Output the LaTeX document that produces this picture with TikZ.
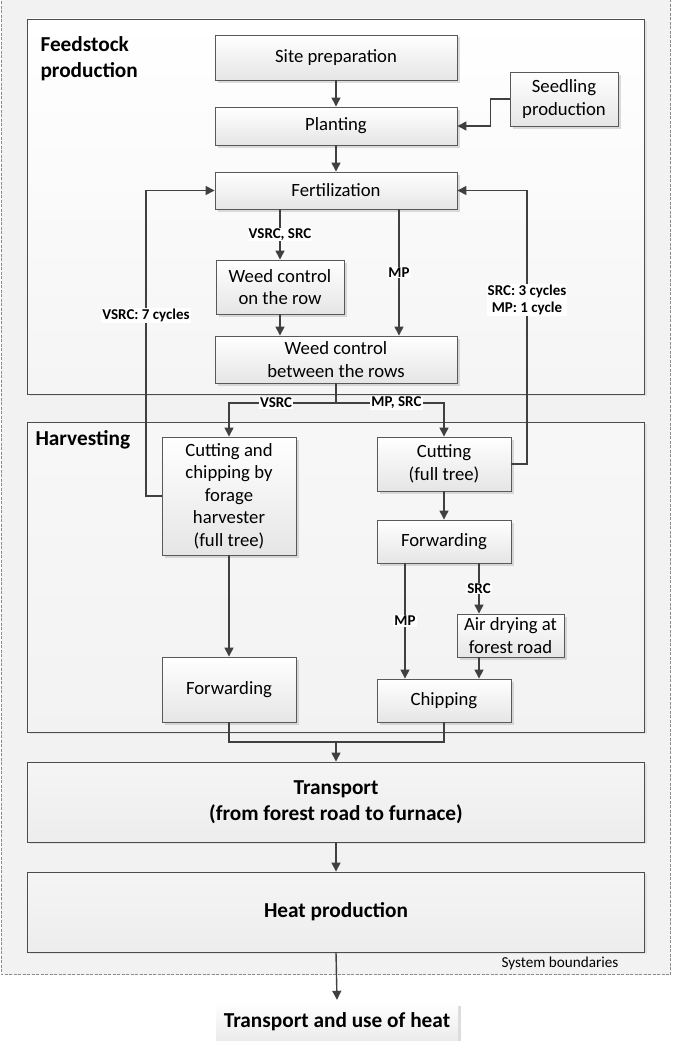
\documentclass[tikz,border=0pt]{standalone}
\usepackage{fontspec}
\setmainfont{Carlito}
\usetikzlibrary{arrows.meta,shadows}
\begin{document}
\begin{tikzpicture}[x=1pt,y=-1pt,
  boxfont/.style={font=\fontsize{18.7}{22.6}\selectfont},
  secfont/.style={font=\fontsize{21.3}{25.6}\selectfont\bfseries},
  labfont/.style={font=\fontsize{15}{17.5}\selectfont\bfseries},
  shad/.style={drop shadow={shadow xshift=2.5pt,shadow yshift=-2.5pt,fill=black!30,opacity=0.45}},
  box/.style={draw=black!65,line width=0.9pt,top color=white,bottom color=black!10,shad,
    align=center,inner sep=0pt,boxfont},
  sec/.style={draw=black!70,line width=0.9pt,inner sep=0pt,
    drop shadow={shadow xshift=2pt,shadow yshift=-2pt,fill=black!20,opacity=0.4}},
  ln/.style={draw=black!75,line width=1.4pt},
  arr/.style={ln,-{Triangle[length=9pt,width=9pt]}},
  lab/.style={fill=white,inner sep=1pt,labfont,align=center},
]
\useasboundingbox (0,0) rectangle (672,1041);
% system boundary
\draw[dash pattern=on 3pt off 1.5pt,draw=black!45,line width=0.9pt,fill=black!5] (1,-3) rectangle (670.5,974.5);
\node[font=\fontsize{15.2}{18}\selectfont,anchor=center] (sysb) at (560,963) {System boundaries};

% sections
\node[sec,top color=white,bottom color=black!4,minimum width=617pt,minimum height=375pt] (fsec) at (336,206.5) {};
\node[sec,top color=black!3,bottom color=black!5,minimum width=617pt,minimum height=310pt] (hsec) at (336,577) {};
\node[secfont,align=left,anchor=west] (fsl) at (37,59) {Feedstock\\production};
\node[secfont,anchor=west] (hsl) at (32,440) {Harvesting};

% feedstock nodes
\node[box,minimum width=242pt,minimum height=45pt] (site) at (336,57.5) {Site preparation};
\node[box,minimum width=108pt,minimum height=54pt] (seed) at (564,99) {Seedling\\production};
\node[box,minimum width=242pt,minimum height=38pt] (plant) at (336,126) {Planting};
\node[box,minimum width=242pt,minimum height=37pt] (fert) at (336,190.5) {Fertilization};
\node[box,minimum width=128pt,minimum height=54pt] (wrow) at (280,287) {Weed control\\on the row};
\node[box,minimum width=242pt,minimum height=47pt] (wbr) at (336,359.5) {Weed control\\between the rows};

% harvesting nodes
\node[box,minimum width=134pt,minimum height=118pt] (ccf) at (229,496) {Cutting and\\chipping by\\forage\\harvester\\(full tree)};
\node[box,minimum width=134pt,minimum height=54pt] (cut) at (444,464) {Cutting\\(full tree)};
\node[box,minimum width=134pt,minimum height=43pt] (fwdr) at (444,541.5) {Forwarding};
\node[box,minimum width=107pt,minimum height=43pt] (air) at (510.5,635.5) {Air drying at\\forest road};
\node[box,minimum width=134pt,minimum height=43pt] (chip) at (444,700.5) {Chipping};
\node[box,minimum width=134pt,minimum height=65pt] (fwdl) at (229,689.5) {Forwarding};

% transport / heat
\node[sec,top color=black!4,bottom color=black!7,minimum width=617pt,minimum height=80pt,secfont,align=center] (trans) at (336,802) {Transport\\(from forest road to furnace)};
\node[sec,top color=black!4,bottom color=black!7,minimum width=617pt,minimum height=80pt,secfont] (heat) at (336,912) {Heat production};
\node[inner sep=0pt,top color=white,bottom color=black!8,shad,minimum width=242pt,minimum height=38pt,secfont] (use) at (337,1022) {Transport and use of heat};

% connectors
\draw[arr] (site) -- (plant);
\draw[arr] (seed.west) -- ++(-19,0) |- (plant.east);
\draw[arr] (plant) -- (fert);
\draw[arr] (wrow.north |- fert.south) -- node[lab] {VSRC, SRC} (wrow.north);
\draw[arr] ([xshift=63pt]fert.south) -- node[lab] {MP} ([xshift=63pt]fert.south |- wbr.north);
\draw[arr] (wrow.south) -- (wrow.south |- wbr.north);

\coordinate (split) at (336,403);
\draw[ln] (wbr.south) -- (split);
\draw[arr] (split) -| node[lab,pos=0.28] {VSRC} (ccf.north);
\draw[arr] (split) -| node[lab,pos=0.28] {MP, SRC} (cut.north);

\coordinate (lc) at (146,0);
\coordinate (rc) at (527,0);
\draw[arr] (ccf.west) -- (ccf.west -| lc) -- node[lab,pos=0.59] {VSRC: 7 cycles} (lc |- fert.west) -- (fert.west);
\draw[arr] (cut.east) -- (cut.east -| rc) -- node[lab,pos=0.60] {SRC: 3 cycles\\MP: 1 cycle} (rc |- fert.east) -- (fert.east);

\draw[arr] (cut) -- (fwdr);
\draw[arr] ([xshift=-39pt]fwdr.south) -- node[lab] {MP} ([xshift=-39pt]chip.north);
\draw[arr] ([xshift=35pt]fwdr.south) -- node[lab] {SRC} ([xshift=35pt]fwdr.south |- air.north);
\draw[arr] ([xshift=35pt]chip.north |- air.south) -- ([xshift=35pt]chip.north);
\draw[arr] (ccf) -- (fwdl);

\coordinate (mj) at (336,742);
\draw[ln] (fwdl.south) -- (fwdl.south |- mj) -- (chip.south |- mj) -- (chip.south);
\draw[arr] (mj) -- (trans.north);
\draw[arr] (trans) -- (heat);
\draw[arr] (heat.south) -- ([yshift=3pt]use.north);
\end{tikzpicture}
\end{document}
